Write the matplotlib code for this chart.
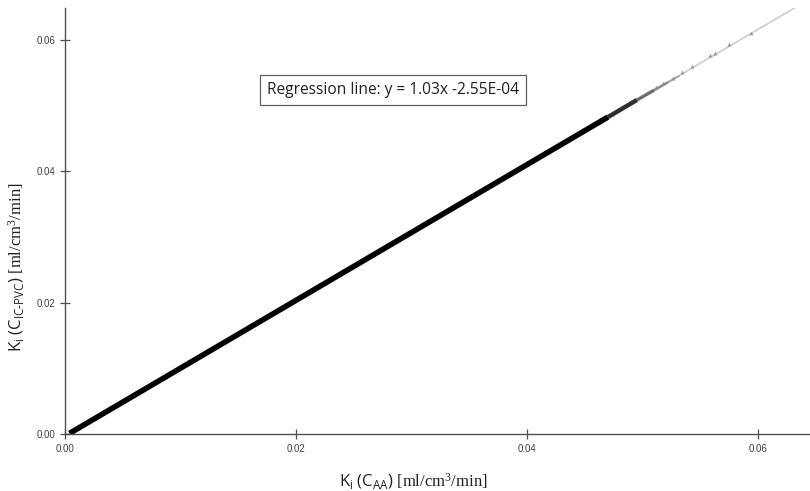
import numpy as np
import matplotlib
matplotlib.use('Agg')
import matplotlib.pyplot as plt
from matplotlib.collections import LineCollection
from matplotlib.ticker import FormatStrFormatter

# 字体设置
plt.rcParams['mathtext.fontset'] = 'custom'
plt.rcParams['mathtext.sf'] = 'Open Sans'
plt.rcParams['mathtext.rm'] = 'Liberation Serif'
plt.rcParams['mathtext.it'] = 'Liberation Serif:italic'

# =====数据=====
# 回归线系数
slope = 1.03
intercept = -2.55E-04
line_x = [0.0, 0.0635]
# 密集点带（沿着对角线），每一段的透明度
band_x = [0.0004, 0.0470, 0.0495, 0.0510, 0.0522, 0.0532]
band_y = [0.0001, 0.0482, 0.0508, 0.0523, 0.0535, 0.0545]
band_alpha = [1.0, 0.8, 0.5, 0.35, 0.22]
band_width = [4.0, 3.2, 2.5, 2.0, 1.6]
# 稀疏的离群点
tail_x = [0.0512, 0.0518, 0.0526, 0.0534, 0.0543, 0.0558, 0.0563, 0.0575, 0.0594]
tail_y = [0.0528, 0.0534, 0.0541, 0.0551, 0.0560, 0.0576, 0.0580, 0.0593, 0.0610]

x_ticks = [0.00, 0.02, 0.04, 0.06]
y_ticks = [0.00, 0.02, 0.04, 0.06]

fig = plt.figure(figsize=(8.1, 4.91), dpi=100)
ax = fig.add_axes([0.0802, 0.1161, 0.9198, 0.8676])

# 回归线
ly = [slope * v + intercept for v in line_x]
ax.plot(line_x, ly, color='#c8c8c8', lw=1.1, zorder=1)

# 点带
segs = [[(band_x[i], band_y[i]), (band_x[i + 1], band_y[i + 1])] for i in range(len(band_x) - 1)]
cols = [(0, 0, 0, a) for a in band_alpha]
lc = LineCollection(segs, colors=cols, linewidths=band_width, capstyle='butt', zorder=2)
ax.add_collection(lc)
ax.scatter(tail_x, tail_y, s=9, color='#909090', alpha=0.8, marker='^', lw=0, zorder=3)

# 坐标轴
ax.set_xlim(0, 0.0645)
ax.set_ylim(0, 0.0648)
for line in ['right', 'top']:
    ax.spines[line].set_visible(False)
for line in ['left', 'bottom']:
    ax.spines[line].set_color('#505050')
    ax.spines[line].set_linewidth(1.0)
ax.set_xticks(x_ticks)
ax.set_yticks(y_ticks)
ax.xaxis.set_major_formatter(FormatStrFormatter('%.2f'))
ax.yaxis.set_major_formatter(FormatStrFormatter('%.2f'))
ax.tick_params(direction='inout', length=7, width=0.9, color='#505050',
               labelsize=7, labelcolor='#404040')
for lab in ax.get_xticklabels() + ax.get_yticklabels():
    lab.set_family('Liberation Sans')

ax.set_xlabel(r'$\mathsf{K_i\ (C_{AA})}$ [ml/cm$^3$/min]', fontsize=12,
              family='Liberation Serif', color='#202020')
ax.xaxis.set_label_coords(0.467, -0.089)
ax.set_ylabel(r'$\mathsf{K_i\ (C_{IC\text{-}PVC})}$ [ml/cm$^3$/min]', fontsize=12,
              family='Liberation Serif', color='#202020')
ax.yaxis.set_label_coords(-0.051, 0.392)

# 回归方程文本框
ax.text(0.440, 0.807, 'Regression line: y = 1.03x -2.55E-04', transform=ax.transAxes,
        ha='center', va='center', fontsize=11.2, family='Open Sans', color='#202020',
        bbox=dict(boxstyle='square,pad=0.45', facecolor='white', edgecolor='#606060', lw=0.9))

fig.savefig('out.png', format='png', facecolor='white')
